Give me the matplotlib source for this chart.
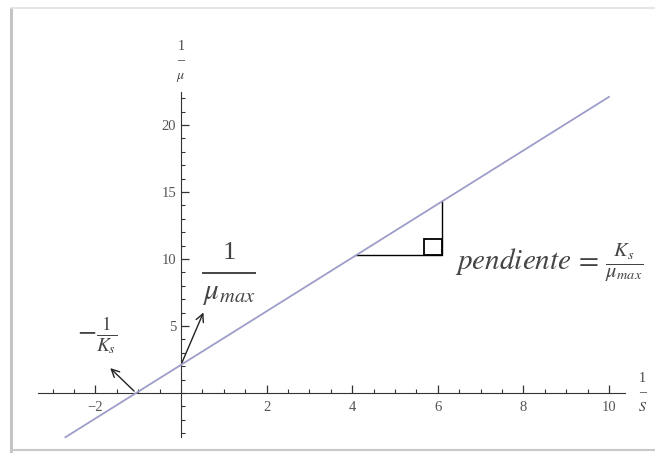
import numpy as np
import matplotlib.pyplot as plt
from matplotlib.lines import Line2D

plt.rcParams['font.family'] = ['Liberation Serif', 'DejaVu Serif']
plt.rcParams['mathtext.fontset'] = 'stix'

# recta de Lineweaver-Burk: 1/mu = 1/mu_max + (Ks/mu_max) * 1/S
intercepto = 2.1
pendiente = 2.0
x_linea = [-2.7, 10.0]

x_ticks = [-2, 2, 4, 6, 8, 10]
y_ticks = [5, 10, 15, 20]

# triangulo de la pendiente
x_tri = [4.1, 6.1]

fig = plt.figure(figsize=(6.55, 4.53), dpi=100)
ax = fig.add_axes([0, 0, 1, 1])

# escala: px -> datos
ax.set_xlim(-181 / 42.8, (655 - 181) / 42.8)
ax.set_ylim((393 - 453) / 13.4, 393 / 13.4)

xs = np.array(x_linea)
ax.plot(xs, intercepto + pendiente * xs, color='#9d9dc9', lw=1.3, zorder=3)

# triangulo
y0 = intercepto + pendiente * x_tri[0]
y1 = intercepto + pendiente * x_tri[1]
ax.plot([x_tri[0], x_tri[1], x_tri[1]], [y0, y0, y1], color='black', lw=1.0)
ax.add_patch(plt.Rectangle((x_tri[1] - 0.42, y0), 0.42, 1.2, fill=False,
                           ec='black', lw=1.3))

# ejes en el origen
for s in ['top', 'right']:
    ax.spines[s].set_visible(False)
ax.spines['left'].set_position(('data', 0))
ax.spines['bottom'].set_position(('data', 0))
ax.spines['bottom'].set_bounds(-3.34, 10.37)
ax.spines['left'].set_bounds(-3.28, 22.46)
ax.spines['left'].set_color('#333333')
ax.spines['bottom'].set_color('#333333')

ax.set_xticks(x_ticks)
ax.set_yticks(y_ticks)
ax.set_xticks(np.arange(-3, 10.5, 0.5), minor=True)
ax.set_yticks(np.arange(-3, 23, 1), minor=True)
ax.tick_params(axis='both', which='major', direction='in', length=6,
               width=0.9, labelsize=10.5, labelcolor='#555555', color='#333333')
ax.tick_params(axis='both', which='minor', direction='in', length=3,
               width=0.8, color='#333333')
ax.tick_params(axis='x', pad=6)

# etiquetas de los ejes
ax.text(0, 24.7, '1\n–\n$\\mu$', ha='center', va='center', fontsize=10,
        linespacing=1.15, color='#444444')
ax.text(10.78, 0.0, '1\n–\n$S$', ha='center', va='center', fontsize=10,
        linespacing=1.15, color='#444444')

# anotaciones
ax.text(1.12, 10.45, '1', ha='center', va='center', fontsize=19,
        color='#444444')
ax.plot([0.51, 1.73], [8.96, 8.96], color='#444444', lw=1.4)
ax.text(1.12, 7.4, '$\\mu_{max}$', ha='center', va='center', fontsize=21,
        color='#444444')
ax.text(-1.95, 4.3, '$-\\frac{1}{K_s}$', ha='center', va='center',
        fontsize=20, color='#444444')
ax.text(6.4, 9.7, '$pendiente\\,=\\,\\frac{K_s}{\\mu_{max}}$', ha='left',
        va='center', fontsize=21, color='#444444')

ax.annotate('', xy=(0.55, 6.2), xytext=(0.0, intercepto),
            arrowprops=dict(arrowstyle='->', lw=1.0, color='#222222',
                            mutation_scale=14))
ax.annotate('', xy=(-1.7, 2.0), xytext=(-1.05, 0),
            arrowprops=dict(arrowstyle='->', lw=1.0, color='#222222',
                            mutation_scale=14))

# marco de la captura
fig.add_artist(Line2D([11 / 655, 11 / 655], [0, 1 - 9 / 453],
                      color='#c4c4c4', lw=2.2))
fig.add_artist(Line2D([11 / 655, 1], [1 - 8 / 453, 1 - 8 / 453],
                      color='#e2e2e2', lw=1.2))
fig.add_artist(Line2D([11 / 655, 1], [3 / 453, 3 / 453],
                      color='#c8c8c8', lw=1.5))

fig.savefig('out.png', dpi=100)
